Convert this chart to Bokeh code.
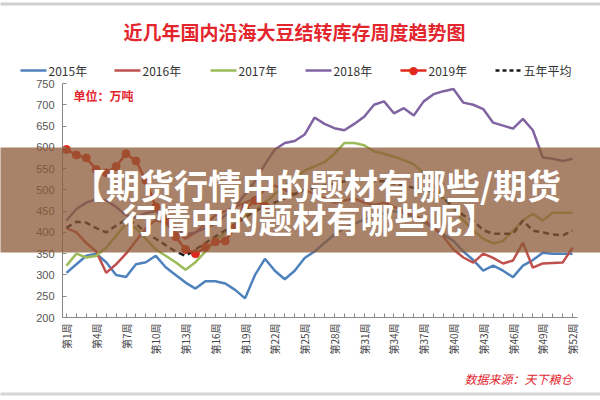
from bokeh.plotting import figure
from bokeh.models import FixedTicker
from bokeh.core.properties import value
from bokeh.embed import file_html
from bokeh.resources import INLINE
import math

weeks = list(range(1, 53))

y2015 = [305, 325, 345, 350, 330, 300, 295, 325, 330, 345, 318, 300, 282, 268, 285, 285, 280, 265, 245, 300,
         338, 310, 290, 310, 340, 355, 375, 395, 410, 420, 430, 440, 445, 450, 445, 435, 425, 410, 395, 380,
         355, 335, 310, 322, 310, 295, 322, 335, 352, 350, 350, 350]
y2016 = [410, 400, 375, 355, 305, 325, 350, 380, 410, 430, 420, 400, 385, 400, 420, 440, 450, 460, 470, 480,
         500, 510, 500, 490, 500, 490, 480, 470, 475, 480, 470, 465, 470, 460, 450, 440, 430, 410, 390, 360,
         341, 329, 350, 340, 327, 334, 376, 317, 327, 328, 329, 364]
y2017 = [322, 350, 341, 345, 364, 392, 420, 410, 385, 360, 345, 330, 312, 330, 355, 380, 400, 420, 440, 450,
         470, 490, 510, 530, 545, 555, 565, 585, 610, 610, 605, 590, 585, 578, 570, 560, 540, 510, 480, 455,
         428, 405, 385, 374, 380, 404, 428, 444, 428, 446, 446, 446]
y2018 = [428, 455, 470, 478, 475, 460, 440, 435, 445, 450, 430, 410, 395, 400, 410, 420, 440, 460, 490, 520,
         560, 595, 610, 615, 630, 670, 655, 645, 640, 655, 672, 700, 708, 680, 692, 675, 708, 725, 732, 737,
         705, 700, 690, 658, 651, 644, 667, 640, 576, 573, 568, 573]
weeks2019 = list(range(1, 22))
y2019 = [595, 582, 575, 548, 540, 555, 585, 568, 522, 460, 430, 390, 360, 350, 365, 378, 380, 410, 455, 475, 462]
avg5 = [411, 425, 423, 410, 400, 416, 430, 420, 400, 385, 370, 355, 345, 360, 375, 390, 405, 420, 435, 450,
        460, 470, 480, 490, 500, 505, 510, 515, 520, 525, 525, 520, 520, 515, 510, 505, 500, 495, 480, 460,
        440, 428, 405, 397, 397, 397, 428, 404, 400, 395, 393, 404]

series_names = ["2015年", "2016年", "2017年", "2018年", "2019年", "五年平均"]
series_colors = ["#4F81BD", "#C0504D", "#9BBB59", "#8064A2", "#E02A1E", "#1a1a1a"]
label_weeks = list(range(1, 53, 3))
y_ticks = list(range(200, 751, 50))

title_text = "近几年国内沿海大豆结转库存周度趋势图"
unit_text = "单位：万吨"
source_text = "数据来源：天下粮仓"
banner_line1 = "【期货行情中的题材有哪些/期货"
banner_line2 = "行情中的题材有哪些呢】"

CJK = "Noto Sans CJK SC"
RED = "#E3262E"

# layout constants (pixels)
W, H = 600, 400
FL, FR, FT, FB = 62, 577, 83, 317
XR = (0.6, 52.5)
YR = (200, 750)


def cx(px):
    return XR[0] + (px - FL) / (FR - FL) * (XR[1] - XR[0])


def cy(py):
    return YR[0] + (FB - py) / (FB - FT) * (YR[1] - YR[0])


p = figure(width=W, height=H, x_range=XR, y_range=YR,
           output_backend="svg", toolbar_location=None,
           min_border_left=FL, min_border_right=W - FR, min_border_top=FT, min_border_bottom=H - FB)
p.outline_line_color = None
p.xgrid.visible = False
p.ygrid.visible = False
p.background_fill_color = "white"
p.border_fill_color = "white"

# axes
p.xaxis.ticker = FixedTicker(ticks=weeks)
p.xaxis.major_label_overrides = {w: (f"第{w}周" if w in label_weeks else "") for w in weeks}
p.xaxis.major_label_orientation = math.pi / 2
p.xaxis.major_label_text_font = CJK
p.xaxis.major_label_text_font_size = "10px"
p.xaxis.major_label_text_color = "#444444"
p.xaxis.major_tick_in = 4
p.xaxis.major_tick_out = 0
p.xaxis.minor_tick_line_color = None
p.xaxis.axis_line_color = "#888888"
p.xaxis.major_tick_line_color = "#888888"
p.xaxis.major_label_standoff = 6

p.yaxis.ticker = FixedTicker(ticks=y_ticks)
p.yaxis.major_label_text_font = "Liberation Sans"
p.yaxis.major_label_text_font_size = "11px"
p.yaxis.major_label_text_color = "#555555"
p.yaxis.major_tick_in = 4
p.yaxis.major_tick_out = 0
p.yaxis.minor_tick_line_color = None
p.yaxis.axis_line_color = "#888888"
p.yaxis.major_tick_line_color = "#888888"
p.yaxis.major_label_standoff = 8

lw = 2.5
p.line(weeks, y2015, line_color=series_colors[0], line_width=lw)
p.line(weeks, y2016, line_color=series_colors[1], line_width=lw)
p.line(weeks, y2017, line_color=series_colors[2], line_width=lw)
p.line(weeks, y2018, line_color=series_colors[3], line_width=lw)
p.line(weeks, avg5, line_color=series_colors[5], line_width=2.5, line_dash="6 4")
p.line(weeks2019, y2019, line_color=series_colors[4], line_width=lw)
p.scatter(weeks2019, y2019, size=8, fill_color=series_colors[4], line_color=series_colors[4])

OV = "overlay"

# grey page rules
p.quad(left=[cx(0)], right=[cx(W)], top=[cy(2)], bottom=[cy(5)], fill_color="#cfcfcf",
       line_alpha=0, level=OV)
p.quad(left=[cx(0)], right=[cx(W)], top=[cy(392)], bottom=[cy(395)], fill_color="#d5d5d5",
       line_alpha=0, level=OV)

# title, unit and source
p.text(x=[cx(294)], y=[cy(31)], text=[title_text], text_font=value(CJK), text_font_style="bold",
       text_font_size="19px", text_color=RED, text_align="center", text_baseline="middle", level=OV)
p.text(x=[cx(73)], y=[cy(95)], text=[unit_text], text_font=value(CJK), text_font_style="bold",
       text_font_size="12px", text_color=RED, text_align="left", text_baseline="middle", level=OV)
p.text(x=[cx(572)], y=[cy(378)], text=[source_text], text_font=value(CJK), text_font_style="italic",
       text_font_size="12px", text_color=RED, text_align="right", text_baseline="middle", level=OV)

# legend row
leg_x = [20, 114, 210, 305, 400, 495]
leg_y = 70
seg_len = 26
for i, name in enumerate(series_names):
    x0, x1 = cx(leg_x[i]), cx(leg_x[i] + seg_len)
    dash = "4 3" if i == 5 else "solid"
    p.segment(x0=[x0], y0=[cy(leg_y)], x1=[x1], y1=[cy(leg_y)], line_color=series_colors[i],
              line_width=2.5, line_dash=dash, level=OV)
    if i == 4:
        p.text(x=[(x0 + x1) / 2], y=[cy(leg_y)], text=["●"], text_font=value("DejaVu Sans"),
               text_font_size="11px", text_color=series_colors[i], text_align="center",
               text_baseline="middle", level=OV)
    p.text(x=[cx(leg_x[i] + seg_len + 2)], y=[cy(leg_y)], text=[name], text_font=value(CJK),
           text_font_size="12px", text_color="#333333", text_align="left", text_baseline="middle", level=OV)

# banner overlay
p.quad(left=[cx(0)], right=[cx(W)], top=[cy(147)], bottom=[cy(252)], fill_color="#8C5A37",
       fill_alpha=0.75, line_alpha=0, level=OV)
p.text(x=[cx(316)], y=[cy(184)], text=[banner_line1], text_font=value(CJK), text_font_style="bold",
       text_font_size="34px", text_color="white", text_align="center", text_baseline="middle", level=OV)
p.text(x=[cx(309)], y=[cy(218)], text=[banner_line2], text_font=value(CJK), text_font_style="bold",
       text_font_size="34px", text_color="white", text_align="center", text_baseline="middle", level=OV)

open("out.html", "w").write(file_html(p, INLINE))
